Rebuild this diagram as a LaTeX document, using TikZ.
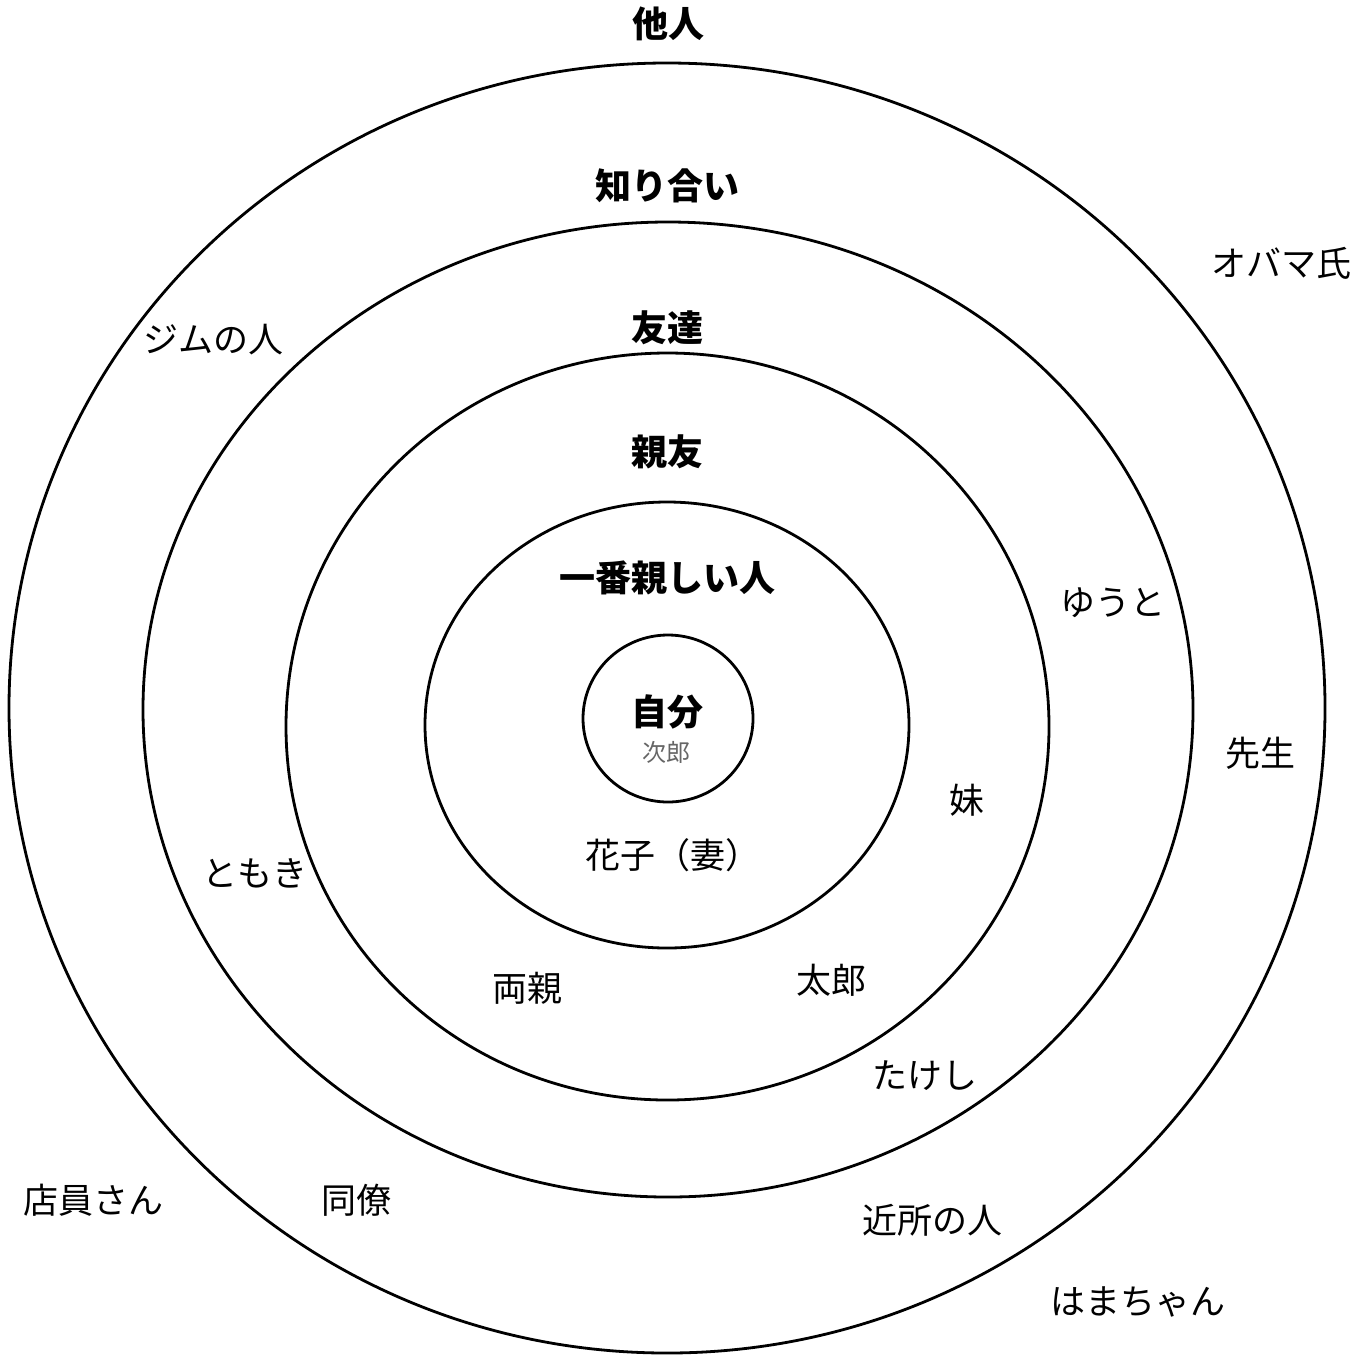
\documentclass[tikz,border=0pt]{standalone}
\usepackage{fontspec}
\usepackage{tikz}
\newfontfamily\jpfont{Noto Sans CJK JP}
\tikzset{
  ring/.style={line width=1.4pt, draw=black},
  grouplabel/.style={font=\jpfont\bfseries\fontsize{18pt}{20pt}\selectfont, inner sep=0pt},
  person/.style={font=\jpfont\fontsize{17.5pt}{20pt}\selectfont, inner sep=0pt},
  selfname/.style={font=\jpfont\fontsize{12pt}{14pt}\selectfont, text=black!60, inner sep=0pt}
}

\begin{document}
\begin{tikzpicture}[x=0.5pt,y=0.5pt]
		\useasboundingbox (0,0) rectangle (1368,-1355);

		% Rings, outside in.
		\draw[ring] (667,-708) ellipse [x radius=658, y radius=645];
		\draw[ring] (668,-709.5) ellipse [x radius=525, y radius=487.5];
		\draw[ring] (667.5,-726.5) ellipse [x radius=381.5, y radius=373.5];
		\draw[ring] (667,-725) ellipse [x radius=242, y radius=223];
		\draw[ring] (668,-718.5) ellipse [x radius=85, y radius=83.5];

		% Ring titles.
		\node[grouplabel] (tanin) at (668,-24) {他人};
		\node[grouplabel] (shiriai) at (667,-186) {知り合い};
		\node[grouplabel] (tomodachi) at (667,-328) {友達};
		\node[grouplabel] (shinyu) at (667,-452) {親友};
		\node[grouplabel] (ichiban) at (667,-578) {一番親しい人};
		\node[grouplabel] (jibun) at (667,-712) {自分};
		\node[selfname] (jiro) at (666,-752) {次郎};

		% People.
		\node[person] (gym) at (213,-340) {ジムの人};
		\node[person] (obama) at (1281,-263) {オバマ氏};
		\node[person] (yuto) at (1113,-603) {ゆうと};
		\node[person] (sensei) at (1260,-753) {先生};
		\node[person] (imouto) at (967,-800) {妹};
		\node[person] (hanako) at (673,-855) {花子（妻）};
		\node[person] (tomoki) at (255,-873) {ともき};
		\node[person] (ryoshin) at (527,-988) {両親};
		\node[person] (taro) at (831,-980) {太郎};
		\node[person] (takeshi) at (925,-1076) {たけし};
		\node[person] (tenin) at (93,-1200) {店員さん};
		\node[person] (doryo) at (356,-1200) {同僚};
		\node[person] (kinjo) at (932,-1220) {近所の人};
		\node[person] (hama) at (1138,-1302) {はまちゃん};
	\end{tikzpicture}
\end{document}
